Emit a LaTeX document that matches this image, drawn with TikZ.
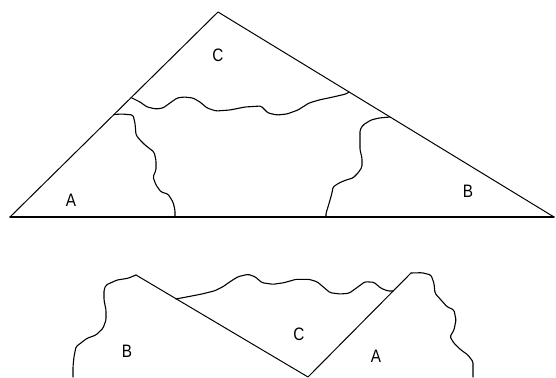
\documentclass[tikz,border=0pt]{standalone}
\usepackage{fontspec}
\setmainfont{Liberation Sans}
\begin{document}
\begin{tikzpicture}[x=1pt,y=-1pt,
  edge/.style={line width=1pt,black,line join=round,line cap=round},
  wavy/.style={line width=1.1pt,black,line join=round,line cap=round,rounded corners=1.5pt},
  lbl/.style={font=\fontsize{18}{18}\selectfont,inner sep=0pt,text=black,xscale=0.85}]
\useasboundingbox (0,0) rectangle (556,377);
% top triangle
\coordinate (apex) at (218,12);
\coordinate (bl) at (10,217);
\coordinate (br) at (554,217);
\draw[edge] (bl) -- (apex) -- (br);
\draw[edge,line width=1.4pt] (bl) -- (br);
% C boundary (top)
\coordinate (c1) at (131,97.5);
\coordinate (c2) at (349,92);
\draw[wavy] (c1) -- (140,102) -- (147,107) -- (156,109) -- (163,108) -- (170,103) -- (177,98) -- (184,97) -- (193,98) -- (200,102) -- (207,108) -- (216,111) -- (230,110) -- (245,107) -- (261,106) -- (268,113) -- (277,115) -- (287,114) -- (298,110) -- (309,103) -- (319,100) -- (333,97) -- (346,94) -- (c2);
% A boundary (top)
\coordinate (a1) at (114,114.5);
\coordinate (a2) at (175,217);
\draw[wavy] (a1) -- (122,114) -- (133,115) -- (135,123) -- (136,135) -- (140,140) -- (145,145) -- (154,152) -- (156,160) -- (156,170) -- (153,177) -- (156,185) -- (161,192) -- (168,194) -- (173,202) -- (175,210) -- (a2);
% B boundary (top)
\coordinate (b1) at (390,117);
\coordinate (b2) at (326,217);
\draw[wavy] (b1) -- (379,118) -- (371,120) -- (363,125) -- (360,130) -- (360,140) -- (360,150) -- (362,158) -- (362,167) -- (358,173) -- (353,178) -- (346,180) -- (339,183) -- (333,187) -- (332,193) -- (330,200) -- (328,207) -- (326,213) -- (b2);
\node[lbl] (lC) at (218,55) {C};
\node[lbl] (lA) at (71,200) {A};
\node[lbl] (lB) at (468,191) {B};
% bottom arrangement
\coordinate (pB) at (136,275);
\coordinate (bot) at (308,377);
\coordinate (pA) at (411,273);
\draw[edge] (pB) -- (bot) -- (pA);
\coordinate (d1) at (176,299);
\coordinate (d2) at (393,291);
\draw[wavy] (d1) -- (188,296.7) -- (202,294) -- (215,290.7) -- (223,286.7) -- (230,281.7) -- (238,276.7) -- (248,274.3) -- (255,276.7) -- (262,282.7) -- (273,284.3) -- (284,282.7) -- (296,279.3) -- (309,279.3) -- (317,281.7) -- (323,286.7) -- (330,292.7) -- (340,294) -- (349,293.3) -- (356,288.3) -- (365,281.7) -- (374,282.3) -- (381,288.3) -- (388,291) -- (d2);
\coordinate (e1) at (473,377);
\draw[wavy] (pA) -- (422,272.7) -- (431,275) -- (434,283.3) -- (435,293.3) -- (441,300) -- (447,306.7) -- (454,310) -- (456,320) -- (454,330) -- (450,336.7) -- (454,343.3) -- (461,350) -- (468,355) -- (473,361.7) -- (473,370) -- (e1);
\coordinate (f1) at (73,377);
\draw[wavy] (pB) -- (128,278.3) -- (117,280) -- (106,285) -- (104,290) -- (104,300) -- (106,310) -- (106,320) -- (103,328.3) -- (96,335) -- (87,338.3) -- (76,346.7) -- (74,356.7) -- (73,366.7) -- (f1);
\node[lbl] (lB2) at (127,351) {B};
\node[lbl] (lC2) at (299,334) {C};
\node[lbl] (lA2) at (376,356) {A};
\end{tikzpicture}
\end{document}
